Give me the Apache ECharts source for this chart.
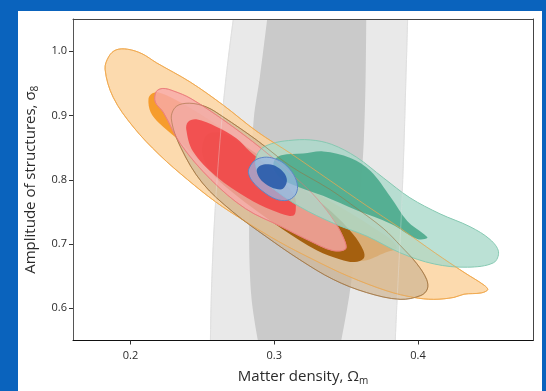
<!DOCTYPE html>
<html>
<head>
<meta charset="utf-8">
<script src="https://cdn.jsdelivr.net/npm/echarts@6/dist/echarts.min.js"></script>
<style>
  html, body { margin: 0; padding: 0; background: #0a63bd; }
  #panel { position: absolute; left: 18px; top: 11px; width: 524px; height: 380px; background: #ffffff; }
  #chart { position: absolute; left: 0; top: 0; width: 546px; height: 391px; }
</style>
</head>
<body>
<div id="panel"></div>
<div id="chart"></div>
<script>
// Tick positions on both axes
const xTicks = [0.2, 0.3, 0.4];
const yTicks = [0.6, 0.7, 0.8, 0.9, 1.0];

// Contour outlines as [Omega_m, sigma_8] vertices
const grayOuter = [
  [0.2760, 1.12], [0.2715, 1.05], [0.2665, 0.96], [0.2630, 0.88], [0.2602, 0.80],
  [0.2578, 0.711], [0.2562, 0.62], [0.2556, 0.55], [0.2556, 0.48],
  [0.3835, 0.48], [0.3842, 0.55], [0.3865, 0.66], [0.3885, 0.75], [0.3902, 0.85],
  [0.3915, 0.95], [0.3928, 1.05], [0.3935, 1.12]
];
const grayInner = [
  [0.2990, 1.12], [0.2951, 1.05], [0.2900, 0.96], [0.2858, 0.896], [0.2840, 0.82],
  [0.2825, 0.72], [0.2840, 0.62], [0.2886, 0.55], [0.2950, 0.48],
  [0.3400, 0.48], [0.3466, 0.55], [0.3522, 0.62], [0.3570, 0.70], [0.3600, 0.78],
  [0.3623, 0.86], [0.3635, 0.95], [0.3640, 1.05], [0.3640, 1.12]
];
const orangeOuter = [
  [0.1823, 0.972], [0.1850, 0.992], [0.1900, 1.002], [0.1980, 1.003], [0.2080, 0.996],
  [0.2180, 0.982], [0.2415, 0.952], [0.2645, 0.916], [0.2880, 0.875], [0.3120, 0.840],
  [0.3380, 0.800], [0.3640, 0.760], [0.3880, 0.724], [0.4120, 0.686], [0.4320, 0.656],
  [0.4460, 0.636], [0.4485, 0.629], [0.4440, 0.624], [0.4320, 0.622], [0.4250, 0.617],
  [0.4110, 0.614], [0.3970, 0.617], [0.3786, 0.627], [0.3515, 0.650], [0.3270, 0.676],
  [0.3030, 0.704], [0.2786, 0.737], [0.2590, 0.766], [0.2398, 0.800], [0.2200, 0.839],
  [0.2020, 0.882], [0.1880, 0.928]
];
const orangeInner = [
  [0.2125, 0.926], [0.2150, 0.934], [0.2190, 0.936], [0.2300, 0.926], [0.2500, 0.900],
  [0.2750, 0.862], [0.3000, 0.818], [0.3250, 0.785], [0.3500, 0.752], [0.3700, 0.724],
  [0.3820, 0.705], [0.3850, 0.693], [0.3774, 0.687], [0.3623, 0.674], [0.3460, 0.678],
  [0.3298, 0.695], [0.3100, 0.722], [0.2900, 0.752], [0.2700, 0.785], [0.2500, 0.825],
  [0.2323, 0.864], [0.2200, 0.888], [0.2140, 0.905]
];
const brownOuter = [
  [0.2284, 0.895], [0.2318, 0.914], [0.2411, 0.919], [0.2530, 0.913], [0.2643, 0.898],
  [0.2876, 0.862], [0.3108, 0.822], [0.3387, 0.785], [0.3577, 0.755], [0.3760, 0.724],
  [0.3880, 0.697], [0.3990, 0.670], [0.4060, 0.645], [0.4065, 0.630], [0.4020, 0.620],
  [0.3875, 0.614], [0.3643, 0.6245], [0.3410, 0.645], [0.3178, 0.6756], [0.2945, 0.7113],
  [0.2712, 0.750], [0.2500, 0.795], [0.2350, 0.850]
];
const brownInner = [
  [0.2516, 0.865], [0.2560, 0.873], [0.2650, 0.872], [0.2800, 0.852], [0.3000, 0.820],
  [0.3200, 0.786], [0.3400, 0.750], [0.3550, 0.715], [0.3620, 0.690], [0.3623, 0.678],
  [0.3560, 0.672], [0.3460, 0.676], [0.3298, 0.690], [0.3066, 0.722], [0.2900, 0.748],
  [0.2700, 0.782], [0.2560, 0.812], [0.2500, 0.840]
];
const redOuter = [
  [0.2172, 0.921], [0.2179, 0.937], [0.2225, 0.942], [0.2300, 0.938], [0.2422, 0.926],
  [0.2665, 0.890], [0.2908, 0.849], [0.3150, 0.803], [0.3300, 0.770], [0.3420, 0.735],
  [0.3490, 0.705], [0.3495, 0.692], [0.3405, 0.690], [0.3247, 0.705], [0.3050, 0.727],
  [0.2800, 0.755], [0.2560, 0.800], [0.2350, 0.855], [0.2228, 0.905]
];
const redInner = [
  [0.2388, 0.878], [0.2400, 0.890], [0.2458, 0.894], [0.2597, 0.8826], [0.2736, 0.8647],
  [0.2829, 0.8443], [0.2950, 0.822], [0.3060, 0.798], [0.3140, 0.775], [0.3150, 0.755],
  [0.3138, 0.745], [0.3100, 0.744], [0.2990, 0.752], [0.2810, 0.772], [0.2597, 0.805],
  [0.2434, 0.8443]
];
const tealOuter = [
  [0.2870, 0.828], [0.2900, 0.846], [0.2980, 0.856], [0.3100, 0.861], [0.3250, 0.862],
  [0.3400, 0.855], [0.3573, 0.835], [0.3759, 0.803], [0.3944, 0.772], [0.4153, 0.747],
  [0.4362, 0.727], [0.4502, 0.707], [0.4560, 0.688], [0.4526, 0.671], [0.4345, 0.664],
  [0.4113, 0.669], [0.3880, 0.686], [0.3647, 0.712], [0.3415, 0.732], [0.3178, 0.758],
  [0.3000, 0.785], [0.2900, 0.805]
];
const tealInner = [
  [0.3000, 0.830], [0.3050, 0.838], [0.3200, 0.8407], [0.3340, 0.844], [0.3530, 0.834],
  [0.3670, 0.8136], [0.3810, 0.7728], [0.3925, 0.736], [0.4040, 0.7156], [0.4065, 0.7094],
  [0.3995, 0.708], [0.3810, 0.7317], [0.3577, 0.7522], [0.3340, 0.775], [0.3178, 0.788],
  [0.3060, 0.800], [0.3000, 0.815]
];
const blueOuter = [
  [0.2825, 0.818], [0.2865, 0.830], [0.2930, 0.835], [0.3000, 0.833], [0.3070, 0.825],
  [0.3135, 0.808], [0.3162, 0.790], [0.3145, 0.776], [0.3090, 0.768], [0.3010, 0.770],
  [0.2920, 0.782], [0.2850, 0.797], [0.2822, 0.809]
];
const blueInner = [
  [0.2878, 0.815], [0.2905, 0.822], [0.2960, 0.824], [0.3020, 0.820], [0.3070, 0.810],
  [0.3088, 0.798], [0.3060, 0.786], [0.3010, 0.786], [0.2950, 0.792], [0.2900, 0.802]
];

function polygonSeries(pts, style, smooth) {
  return {
    type: 'custom',
    coordinateSystem: 'cartesian2d',
    clip: true,
    silent: true,
    animation: false,
    data: [pts[0]],
    renderItem: function (params, api) {
      const points = pts.map(function (p) { return api.coord(p); });
      return {
        type: 'polygon',
        shape: { points: points, smooth: smooth == null ? 0.35 : smooth },
        style: style
      };
    }
  };
}

const series = [
  polygonSeries(grayOuter, { fill: '#e9e9e9', stroke: '#dadada', lineWidth: 1 }, 0.3),
  polygonSeries(grayInner, { fill: '#cacaca' }, 0.3),
  polygonSeries(orangeOuter, { fill: 'rgba(251,211,160,0.85)', stroke: '#f5b15f', lineWidth: 1 }),
  polygonSeries(orangeInner, { fill: 'rgba(245,151,34,0.92)' }),
  polygonSeries(brownOuter, { fill: 'rgba(206,181,148,0.7)', stroke: 'rgba(165,120,70,0.75)', lineWidth: 1 }),
  polygonSeries(brownInner, { fill: 'rgb(165,96,15)' }),
  polygonSeries(redOuter, { fill: 'rgba(248,169,170,0.82)', stroke: '#ef8b86', lineWidth: 1 }),
  polygonSeries(redInner, { fill: 'rgba(241,66,67,0.86)' }),
  polygonSeries(tealOuter, { fill: 'rgba(170,218,203,0.8)', stroke: '#86c9b2', lineWidth: 1 }),
  polygonSeries(tealInner, { fill: 'rgba(72,168,138,0.88)' }),
  // outlines that stay visible through the overlapping fills
  polygonSeries(grayOuter, { fill: 'none', stroke: 'rgba(235,235,235,0.35)', lineWidth: 1 }, 0.3),
  polygonSeries(orangeOuter, { fill: 'none', stroke: 'rgba(238,168,78,0.75)', lineWidth: 1 }),
  polygonSeries(brownOuter, { fill: 'none', stroke: 'rgba(155,110,55,0.5)', lineWidth: 1 }),
  polygonSeries(redOuter, { fill: 'none', stroke: 'rgba(232,118,118,0.55)', lineWidth: 1 }),
  polygonSeries(blueOuter, { fill: 'rgba(150,182,230,0.72)', stroke: '#5d86c6', lineWidth: 1 }),
  polygonSeries(blueInner, { fill: 'rgba(40,90,170,0.9)' })
];

const textColor = '#2b2b2b';
const font = '"Open Sans", "Noto Sans", sans-serif';

const chart = echarts.init(document.getElementById('chart'), null, { renderer: 'canvas' });
chart.setOption({
  animation: false,
  grid: { left: 73, right: 13, top: 19, bottom: 46, show: false },
  xAxis: [{
    type: 'value', min: 0.16, max: 0.48, z: 10,
    axisLine: { show: true, lineStyle: { color: '#111', width: 1 } },
    axisTick: { show: true, inside: false, length: 4, customValues: xTicks, lineStyle: { color: '#333' } },
    axisLabel: { customValues: xTicks, margin: 10, fontSize: 11, color: textColor, fontFamily: font,
      formatter: function (v) { return v.toFixed(1); } },
    splitLine: { show: false },
    name: '{t|Matter density, Ω}{s|m}',
    nameLocation: 'middle', nameGap: 26,
    nameTextStyle: {
      fontFamily: font, color: textColor,
      rich: {
        t: { fontSize: 15, fontFamily: font, color: textColor, lineHeight: 20 },
        s: { fontSize: 10, fontFamily: font, color: textColor, lineHeight: 20, padding: [9, 0, 0, 0] }
      }
    }
  }, {
    type: 'value', min: 0.16, max: 0.48, position: 'top', z: 10,
    axisLine: { show: true, lineStyle: { color: '#444', width: 1 } },
    axisTick: { show: false }, axisLabel: { show: false }, splitLine: { show: false }
  }],
  yAxis: [{
    type: 'value', min: 0.55, max: 1.05, z: 10,
    axisLine: { show: true, lineStyle: { color: '#555', width: 1 } },
    axisTick: { show: true, inside: false, length: 4, customValues: yTicks, lineStyle: { color: '#333' } },
    axisLabel: { customValues: yTicks, margin: 6, fontSize: 11, color: textColor, fontFamily: font,
      formatter: function (v) { return v.toFixed(1); } },
    splitLine: { show: false },
    name: '{t|Amplitude of structures, σ}{s|8}',
    nameLocation: 'middle', nameGap: 27, nameRotate: 90,
    nameTextStyle: {
      fontFamily: font, color: textColor,
      rich: {
        t: { fontSize: 15, fontFamily: font, color: textColor, lineHeight: 20 },
        s: { fontSize: 10, fontFamily: font, color: textColor, lineHeight: 20, padding: [9, 0, 0, 0] }
      }
    }
  }, {
    type: 'value', min: 0.55, max: 1.05, position: 'right', z: 10,
    axisLine: { show: true, lineStyle: { color: '#444', width: 1 } },
    axisTick: { show: false }, axisLabel: { show: false }, splitLine: { show: false }
  }],
  series: series
});
</script>
</body>
</html>
